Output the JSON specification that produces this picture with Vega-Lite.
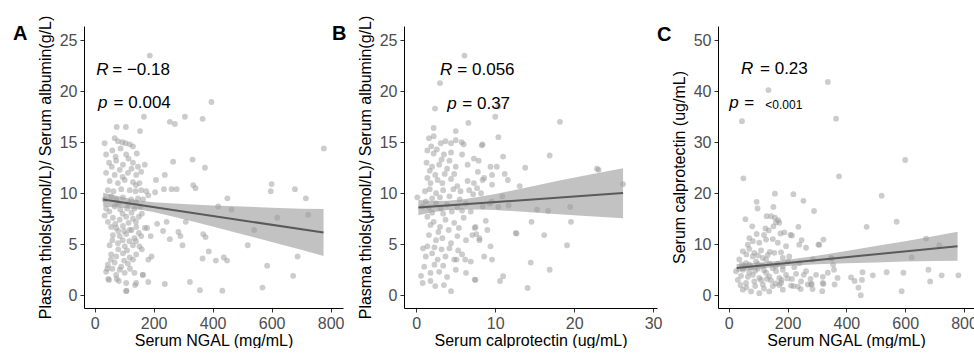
{
  "$schema": "https://vega.github.io/schema/vega-lite/v6.json",
  "padding": {"left": 13, "top": 15, "right": 0, "bottom": 0},
  "background": "white",
  "spacing": 61,
  "bounds": "flush",
  "datasets": {
    "a_pts": [
      {"x":187,"y":23.5},{"x":396,"y":18.95},{"x":306,"y":17.5},{"x":366,"y":17.3},{"x":255,"y":17.0},{"x":272,"y":16.8},{"x":167,"y":17.5},{"x":75,"y":16.5},{"x":106,"y":16.5},{"x":154,"y":16.1},{"x":777,"y":14.4},{"x":332,"y":13.3},{"x":266,"y":13.1},{"x":374,"y":12.5},{"x":170,"y":12.8},{"x":238,"y":11.8},{"x":208,"y":11.3},{"x":334,"y":10.8},{"x":261,"y":10.4},{"x":278,"y":10.4},{"x":342,"y":10.5},{"x":600,"y":10.9},{"x":597,"y":10.2},{"x":679,"y":10.4},{"x":716,"y":9.5},{"x":450,"y":9.5},{"x":235,"y":10.4},{"x":205,"y":10.1},{"x":182,"y":9.8},{"x":419,"y":8.7},{"x":464,"y":8.4},{"x":724,"y":7.9},{"x":619,"y":7.6},{"x":309,"y":7.2},{"x":244,"y":7.2},{"x":212,"y":7.0},{"x":178,"y":6.6},{"x":232,"y":6.3},{"x":284,"y":6.2},{"x":190,"y":5.8},{"x":255,"y":5.5},{"x":291,"y":5.8},{"x":368,"y":6.0},{"x":376,"y":5.7},{"x":541,"y":6.4},{"x":519,"y":4.9},{"x":298,"y":4.9},{"x":387,"y":4.3},{"x":366,"y":3.6},{"x":411,"y":3.4},{"x":438,"y":3.7},{"x":449,"y":3.4},{"x":688,"y":3.8},{"x":585,"y":2.9},{"x":673,"y":1.9},{"x":569,"y":0.75},{"x":357,"y":0.5},{"x":433,"y":0.45},{"x":323,"y":1.3},{"x":238,"y":1.1},{"x":182,"y":1.3},{"x":163,"y":2.0},{"x":193,"y":3.8},{"x":182,"y":3.5},{"x":108,"y":0.45},{"x":137,"y":1.0},{"x":75,"y":1.6},{"x":46,"y":1.6},{"x":43,"y":2.6},
      {"x":34,"y":14.9},{"x":68,"y":15.4},{"x":79,"y":15.1},{"x":94,"y":15.0},{"x":105,"y":14.9},{"x":119,"y":14.8},{"x":130,"y":14.6},
      {"x":39,"y":13.8},{"x":71,"y":13.6},{"x":107,"y":13.8},{"x":143,"y":13.9},
      {"x":49,"y":13.0},{"x":73,"y":13.2},{"x":96,"y":12.8},{"x":130,"y":13.0},{"x":147,"y":12.6},
      {"x":39,"y":12.0},{"x":68,"y":11.8},{"x":85,"y":12.3},{"x":113,"y":12.0},{"x":141,"y":11.8},{"x":158,"y":12.1},
      {"x":51,"y":11.2},{"x":79,"y":11.0},{"x":102,"y":11.3},{"x":130,"y":11.1},{"x":152,"y":11.0},
      {"x":45,"y":10.3},{"x":64,"y":10.2},{"x":90,"y":10.4},{"x":119,"y":10.3},{"x":139,"y":10.2},{"x":158,"y":10.3},{"x":175,"y":10.2},
      {"x":34,"y":9.4},{"x":56,"y":9.7},{"x":73,"y":9.4},{"x":96,"y":9.6},{"x":124,"y":9.4},{"x":147,"y":9.5},{"x":164,"y":9.4},
      {"x":39,"y":8.5},{"x":68,"y":8.7},{"x":87,"y":8.4},{"x":110,"y":8.5},{"x":135,"y":8.5},{"x":155,"y":8.7},
      {"x":34,"y":7.8},{"x":62,"y":7.6},{"x":85,"y":7.4},{"x":107,"y":7.7},{"x":130,"y":7.5},{"x":150,"y":7.7},
      {"x":56,"y":6.7},{"x":73,"y":6.6},{"x":96,"y":6.8},{"x":119,"y":6.4},{"x":141,"y":6.7},{"x":170,"y":6.6},
      {"x":62,"y":5.9},{"x":85,"y":5.8},{"x":107,"y":6.0},{"x":135,"y":5.6},{"x":158,"y":5.8},
      {"x":51,"y":4.9},{"x":79,"y":5.1},{"x":102,"y":4.8},{"x":130,"y":4.9},{"x":152,"y":4.8},
      {"x":56,"y":4.0},{"x":73,"y":3.8},{"x":96,"y":4.1},{"x":119,"y":3.7},{"x":141,"y":4.0},
      {"x":45,"y":3.0},{"x":68,"y":3.2},{"x":90,"y":2.8},{"x":113,"y":3.1},
      {"x":39,"y":2.3},{"x":73,"y":2.0},{"x":102,"y":2.2},{"x":135,"y":2.2},{"x":164,"y":2.0},
      {"x":49,"y":1.5},{"x":82,"y":1.4},{"x":107,"y":1.2},{"x":141,"y":1.2},{"x":107,"y":0.4},
      {"x":60,"y":14.2},{"x":88,"y":14.4},{"x":115,"y":13.4},{"x":125,"y":12.4},{"x":58,"y":12.6},{"x":95,"y":11.6},{"x":140,"y":10.8},{"x":80,"y":9.0},{"x":115,"y":9.0},{"x":140,"y":9.1},{"x":50,"y":8.2},{"x":95,"y":8.0},{"x":125,"y":8.1},{"x":160,"y":8.0},{"x":45,"y":7.2},{"x":70,"y":7.0},{"x":115,"y":7.1},{"x":140,"y":7.2},{"x":80,"y":6.3},{"x":100,"y":6.3},{"x":125,"y":6.4},{"x":150,"y":6.1},{"x":60,"y":5.4},{"x":95,"y":5.4},{"x":118,"y":5.3},{"x":140,"y":5.3},{"x":80,"y":4.5},{"x":110,"y":4.4},{"x":160,"y":4.5},{"x":55,"y":3.5},{"x":100,"y":3.4},{"x":130,"y":3.5},{"x":60,"y":2.6},{"x":85,"y":2.5},{"x":120,"y":2.6}
    ],
    "a_band": [
      {"x":29,"y":8.70,"hi":10.05},{"x":100,"y":8.55,"hi":9.59},{"x":150,"y":8.42,"hi":9.30},{"x":200,"y":8.16,"hi":9.12},{"x":300,"y":7.48,"hi":8.94},{"x":400,"y":6.75,"hi":8.79},{"x":500,"y":5.98,"hi":8.70},{"x":600,"y":5.23,"hi":8.59},{"x":700,"y":4.47,"hi":8.47},{"x":776,"y":3.85,"hi":8.45}
    ],
    "a_line": [{"x":29,"y":9.38},{"x":776,"y":6.15}],
    "a_txt": [
      {"x":5.4,"y":21.64,"label":"R","k":"it"},{"x":59.7,"y":21.64,"label":"= −0.18","k":"reg"},
      {"x":11.2,"y":18.36,"label":"p","k":"it"},{"x":64.4,"y":18.36,"label":"= 0.004","k":"reg"}
    ],
    "b_pts": [
      {"x":6.1,"y":23.5},{"x":3.0,"y":20.8},{"x":2.37,"y":18.3},{"x":10.4,"y":18.5},{"x":10.0,"y":17.5},{"x":18.2,"y":17.0},{"x":6.6,"y":16.9},{"x":5.0,"y":16.1},{"x":2.2,"y":16.4},{"x":10.4,"y":15.5},{"x":8.3,"y":14.7},{"x":5.75,"y":15.0},{"x":11.0,"y":13.6},{"x":16.9,"y":13.7},{"x":7.9,"y":13.2},{"x":13.8,"y":12.5},{"x":10.2,"y":12.6},{"x":22.9,"y":12.4},{"x":23.1,"y":12.3},{"x":11.2,"y":11.9},{"x":8.4,"y":11.3},{"x":9.6,"y":10.85},{"x":11.6,"y":11.3},{"x":13.1,"y":10.7},{"x":26.2,"y":10.9},{"x":7.7,"y":10.5},{"x":7.2,"y":9.9},{"x":9.3,"y":9.0},{"x":10.4,"y":8.66},{"x":11.7,"y":8.8},{"x":15.3,"y":8.4},{"x":16.7,"y":8.27},{"x":19.5,"y":8.66},{"x":19.6,"y":7.2},{"x":14.6,"y":7.2},{"x":16.2,"y":5.9},{"x":12.7,"y":6.05},{"x":9.0,"y":6.4},{"x":7.4,"y":6.6},{"x":7.6,"y":6.0},{"x":8.0,"y":5.4},{"x":19.1,"y":4.9},{"x":14.5,"y":3.2},{"x":16.9,"y":2.5},{"x":11.0,"y":1.86},{"x":10.6,"y":1.4},{"x":14.1,"y":0.72},{"x":7.4,"y":1.54},{"x":6.2,"y":3.5},{"x":5.1,"y":3.5},{"x":5.3,"y":4.4},{"x":0.85,"y":4.6},
      {"x":1.6,"y":15.4},{"x":2.2,"y":15.6},{"x":3.1,"y":14.9},{"x":3.7,"y":15.1},{"x":4.4,"y":14.9},{"x":5.0,"y":15.2},{"x":6.0,"y":14.8},{"x":8.4,"y":14.8},
      {"x":1.4,"y":14.2},{"x":2.2,"y":13.9},{"x":3.5,"y":13.8},{"x":4.4,"y":14.0},{"x":5.8,"y":13.8},{"x":7.3,"y":13.4},
      {"x":1.3,"y":13.0},{"x":2.0,"y":12.6},{"x":2.9,"y":12.8},{"x":3.9,"y":12.4},{"x":5.0,"y":12.6},{"x":6.5,"y":12.8},{"x":7.8,"y":12.1},{"x":9.4,"y":12.6},
      {"x":1.4,"y":11.5},{"x":1.8,"y":11.0},{"x":2.7,"y":11.3},{"x":3.3,"y":11.0},{"x":4.4,"y":11.4},{"x":5.2,"y":10.7},{"x":6.5,"y":11.2},{"x":7.3,"y":11.0},{"x":8.6,"y":11.5},{"x":9.6,"y":11.8},
      {"x":1.1,"y":10.2},{"x":1.7,"y":10.4},{"x":2.5,"y":10.0},{"x":3.4,"y":10.3},{"x":4.7,"y":10.4},{"x":5.6,"y":10.2},{"x":6.7,"y":10.3},{"x":8.2,"y":10.0},{"x":10.9,"y":9.7},{"x":0.13,"y":9.6},
      {"x":0.8,"y":8.7},{"x":1.6,"y":8.6},{"x":2.5,"y":9.0},{"x":3.1,"y":8.5},{"x":3.9,"y":8.9},{"x":5.2,"y":8.6},{"x":6.3,"y":9.0},{"x":6.9,"y":8.2},{"x":8.4,"y":8.7},{"x":9.6,"y":9.2},
      {"x":1.4,"y":7.7},{"x":2.2,"y":7.2},{"x":3.0,"y":6.7},{"x":3.7,"y":7.4},{"x":4.8,"y":7.1},{"x":6.0,"y":7.6},{"x":7.5,"y":6.7},{"x":8.8,"y":7.3},{"x":12.6,"y":6.1},
      {"x":1.6,"y":5.9},{"x":2.5,"y":5.4},{"x":3.3,"y":5.6},{"x":4.4,"y":5.1},{"x":5.2,"y":5.8},{"x":6.3,"y":5.4},{"x":7.1,"y":5.9},{"x":8.0,"y":5.6},{"x":9.4,"y":4.8},
      {"x":1.2,"y":3.8},{"x":2.0,"y":4.1},{"x":2.7,"y":3.5},{"x":3.7,"y":3.8},{"x":4.8,"y":3.5},{"x":5.8,"y":4.0},{"x":6.9,"y":3.3},{"x":8.6,"y":3.8},{"x":9.6,"y":3.5},
      {"x":1.0,"y":2.8},{"x":1.8,"y":2.2},{"x":2.9,"y":2.3},{"x":3.9,"y":1.8},{"x":5.0,"y":2.5},{"x":6.3,"y":2.2},{"x":7.5,"y":1.5},
      {"x":0.8,"y":1.2},{"x":1.8,"y":1.4},{"x":2.4,"y":0.9},{"x":3.5,"y":1.0},{"x":4.4,"y":0.4},
      {"x":1.9,"y":14.6},{"x":2.6,"y":14.3},{"x":3.2,"y":13.3},{"x":4.2,"y":13.2},{"x":1.7,"y":12.2},{"x":2.4,"y":11.8},{"x":3.6,"y":11.9},{"x":4.8,"y":11.9},{"x":2.0,"y":9.5},{"x":3.0,"y":9.6},{"x":4.2,"y":9.7},{"x":5.5,"y":9.4},{"x":1.2,"y":9.2},{"x":2.0,"y":8.1},{"x":3.4,"y":8.0},{"x":4.5,"y":8.2},{"x":5.8,"y":8.3},{"x":1.8,"y":6.9},{"x":2.8,"y":6.2},{"x":4.1,"y":6.4},{"x":5.4,"y":6.6},{"x":1.4,"y":4.8},{"x":2.3,"y":4.7},{"x":3.2,"y":4.5},{"x":4.2,"y":4.6},{"x":0.6,"y":1.9},{"x":2.3,"y":3.0},{"x":3.4,"y":2.9}
    ],
    "b_band": [
      {"x":0.26,"y":7.85,"hi":9.35},{"x":2,"y":8.15,"hi":9.25},{"x":4,"y":8.35,"hi":9.27},{"x":6,"y":8.42,"hi":9.42},{"x":8,"y":8.41,"hi":9.65},{"x":10,"y":8.36,"hi":9.92},{"x":14,"y":8.16,"hi":10.56},{"x":18,"y":7.93,"hi":11.23},{"x":22,"y":7.75,"hi":11.85},{"x":26.2,"y":7.56,"hi":12.45}
    ],
    "b_line": [{"x":0.26,"y":8.6},{"x":26.2,"y":10.03}],
    "b_txt": [
      {"x":3.0,"y":21.64,"label":"R","k":"it"},{"x":5.2,"y":21.64,"label":"= 0.056","k":"reg"},
      {"x":3.93,"y":18.3,"label":"p","k":"it"},{"x":5.83,"y":18.3,"label":"= 0.37","k":"reg"}
    ],
    "c_pts": [
      {"x":337,"y":41.8},{"x":135,"y":40.2},{"x":365,"y":34.6},{"x":45,"y":34.1},{"x":600,"y":26.5},{"x":50,"y":22.9},{"x":375,"y":23.3},{"x":157,"y":19.9},{"x":220,"y":19.8},{"x":254,"y":18.5},{"x":520,"y":19.5},{"x":95,"y":18.3},{"x":98,"y":17.0},{"x":152,"y":17.3},{"x":290,"y":16.5},{"x":157,"y":15.2},{"x":168,"y":14.7},{"x":571,"y":14.4},{"x":129,"y":15.5},{"x":469,"y":13.4},{"x":237,"y":13.4},{"x":125,"y":13.1},{"x":136,"y":12.7},{"x":176,"y":12.1},{"x":210,"y":11.8},{"x":248,"y":10.8},{"x":322,"y":10.9},{"x":671,"y":11.1},{"x":305,"y":9.9},{"x":716,"y":9.8},{"x":622,"y":7.4},{"x":679,"y":5.0},{"x":724,"y":3.9},{"x":685,"y":2.7},{"x":781,"y":3.9},{"x":594,"y":4.4},{"x":588,"y":0.8},{"x":537,"y":4.5},{"x":490,"y":3.9},{"x":455,"y":4.5},{"x":453,"y":3.0},{"x":441,"y":1.5},{"x":449,"y":0.0},{"x":416,"y":3.5},{"x":428,"y":2.8},{"x":358,"y":5.0},{"x":370,"y":3.4},{"x":350,"y":7.2},{"x":355,"y":6.0},{"x":320,"y":3.6},{"x":318,"y":0.8},{"x":322,"y":2.2},{"x":282,"y":2.2},{"x":285,"y":1.2},{"x":278,"y":3.2},{"x":245,"y":1.2},{"x":255,"y":4.0},{"x":220,"y":1.8},{"x":215,"y":3.2},{"x":172,"y":2.0},{"x":180,"y":3.0},
      {"x":57,"y":14.9},{"x":144,"y":15.5},{"x":161,"y":14.3},{"x":172,"y":14.2},{"x":152,"y":13.5},{"x":189,"y":12.3},{"x":215,"y":11.7},
      {"x":70,"y":11.2},{"x":82,"y":10.6},{"x":104,"y":10.3},{"x":127,"y":10.9},{"x":65,"y":9.9},
      {"x":167,"y":10.3},{"x":195,"y":9.6},{"x":240,"y":9.9},{"x":263,"y":9.3},{"x":308,"y":9.9},
      {"x":48,"y":8.6},{"x":70,"y":9.1},{"x":87,"y":8.3},{"x":110,"y":8.8},{"x":133,"y":7.9},{"x":155,"y":8.3},{"x":178,"y":8.4},{"x":206,"y":7.6},
      {"x":36,"y":7.0},{"x":59,"y":6.3},{"x":93,"y":6.6},{"x":127,"y":7.0},{"x":167,"y":6.2},{"x":201,"y":6.6},{"x":240,"y":6.3},{"x":286,"y":7.0},{"x":348,"y":7.3},
      {"x":25,"y":4.7},{"x":48,"y":5.0},{"x":70,"y":4.5},{"x":99,"y":5.2},{"x":127,"y":4.4},{"x":161,"y":4.7},{"x":184,"y":5.0},{"x":229,"y":4.2},{"x":263,"y":4.7},{"x":297,"y":4.0},{"x":337,"y":4.4},
      {"x":31,"y":3.0},{"x":59,"y":2.4},{"x":87,"y":2.7},{"x":116,"y":2.1},{"x":144,"y":2.9},{"x":178,"y":2.4},{"x":212,"y":1.9},{"x":246,"y":2.7},{"x":280,"y":2.1},{"x":320,"y":2.4},{"x":360,"y":2.1},
      {"x":48,"y":1.1},{"x":76,"y":0.75},{"x":104,"y":0.4},{"x":138,"y":0.75},{"x":184,"y":1.1},{"x":235,"y":1.7},{"x":269,"y":2.1},
      {"x":42,"y":3.8},{"x":65,"y":3.6},{"x":82,"y":4.0},{"x":104,"y":3.4},{"x":138,"y":3.7},{"x":172,"y":3.4},{"x":195,"y":4.0},
      {"x":53,"y":5.7},{"x":76,"y":5.5},{"x":116,"y":5.8},{"x":150,"y":5.3},{"x":184,"y":5.7},{"x":223,"y":5.5},
      {"x":82,"y":7.6},{"x":116,"y":7.3},{"x":184,"y":7.3},
      {"x":40,"y":2.0},{"x":60,"y":1.5},{"x":90,"y":1.8},{"x":120,"y":1.3},{"x":150,"y":1.8},{"x":110,"y":3.0},{"x":130,"y":3.2},{"x":160,"y":2.3},{"x":45,"y":6.0},{"x":70,"y":6.0},{"x":100,"y":6.1},{"x":140,"y":6.2},{"x":90,"y":4.8},{"x":120,"y":4.9},{"x":160,"y":5.7},{"x":200,"y":3.3},{"x":60,"y":8.0},{"x":100,"y":7.8},{"x":140,"y":8.5},{"x":95,"y":12.0},{"x":120,"y":11.8},{"x":150,"y":11.0},{"x":80,"y":13.5}
    ],
    "c_band": [
      {"x":27,"y":4.6,"hi":6.1},{"x":100,"y":5.16,"hi":6.36},{"x":150,"y":5.5,"hi":6.6},{"x":200,"y":5.73,"hi":6.93},{"x":300,"y":6.05,"hi":7.75},{"x":400,"y":6.26,"hi":8.66},{"x":500,"y":6.43,"hi":9.63},{"x":600,"y":6.59,"hi":10.59},{"x":700,"y":6.71,"hi":11.61},{"x":778,"y":6.75,"hi":12.45}
    ],
    "c_line": [{"x":27,"y":5.35},{"x":778,"y":9.6}],
    "c_txt": [
      {"x":41.8,"y":43.27,"label":"R","k":"it"},{"x":106.5,"y":43.27,"label":"= 0.23","k":"reg"},
      {"x":2.0,"y":36.7,"label":"p","k":"it"},{"x":53.1,"y":36.7,"label":"=","k":"reg"},{"x":124.5,"y":36.4,"label":"<0.001","k":"sm"}
    ]
  },
  "hconcat": [
    {
      "width": 259, "height": 282,
      "title": {"text": "A", "dx": -71, "dy": 33},
      "encoding": {
        "x": {"field": "x", "type": "quantitative", "title": "Serum NGAL (mg/mL)", "scale": {"domain": [-36, 842], "nice": false, "zero": false}, "axis": {"values": [0, 200, 400, 600, 800]}},
        "y": {"field": "y", "type": "quantitative", "title": "Plasma thiols(μmol/L)/ Serum albumin(g/L)", "scale": {"domain": [-1.25, 26.4], "nice": false, "zero": false}, "axis": {"values": [0, 5, 10, 15, 20, 25]}}
      },
      "layer": [
        {"data": {"name": "a_pts"}, "mark": {"type": "circle", "size": 34, "color": "#999999", "opacity": 0.5}},
        {"data": {"name": "a_band"}, "mark": {"type": "area", "color": "#999999", "opacity": 0.6}, "encoding": {"y2": {"field": "hi"}}},
        {"data": {"name": "a_line"}, "mark": {"type": "line", "color": "#5a5a5a", "strokeWidth": 2}},
        {"data": {"name": "a_txt"}, "transform": [{"filter": "datum.k == 'it'"}], "mark": {"type": "text", "fontStyle": "italic", "fontSize": 17, "align": "left", "baseline": "alphabetic", "color": "#000000", "font": "Liberation Sans"}, "encoding": {"text": {"field": "label"}}},
        {"data": {"name": "a_txt"}, "transform": [{"filter": "datum.k == 'reg'"}], "mark": {"type": "text", "fontSize": 17, "align": "left", "baseline": "alphabetic", "color": "#000000", "font": "Liberation Sans"}, "encoding": {"text": {"field": "label"}}}
      ]
    },
    {
      "width": 253, "height": 282,
      "title": {"text": "B", "dx": -72, "dy": 33},
      "encoding": {
        "x": {"field": "x", "type": "quantitative", "title": "Serum calprotectin (ug/mL)", "scale": {"domain": [-1.56, 30.5], "nice": false, "zero": false}, "axis": {"values": [0, 10, 20, 30]}},
        "y": {"field": "y", "type": "quantitative", "title": "Plasma thiols(μmol/L)/ Serum albumin(g/L)", "scale": {"domain": [-1.25, 26.4], "nice": false, "zero": false}, "axis": {"values": [0, 5, 10, 15, 20, 25]}}
      },
      "layer": [
        {"data": {"name": "b_pts"}, "mark": {"type": "circle", "size": 34, "color": "#999999", "opacity": 0.5}},
        {"data": {"name": "b_band"}, "mark": {"type": "area", "color": "#999999", "opacity": 0.6}, "encoding": {"y2": {"field": "hi"}}},
        {"data": {"name": "b_line"}, "mark": {"type": "line", "color": "#5a5a5a", "strokeWidth": 2}},
        {"data": {"name": "b_txt"}, "transform": [{"filter": "datum.k == 'it'"}], "mark": {"type": "text", "fontStyle": "italic", "fontSize": 17, "align": "left", "baseline": "alphabetic", "color": "#000000", "font": "Liberation Sans"}, "encoding": {"text": {"field": "label"}}},
        {"data": {"name": "b_txt"}, "transform": [{"filter": "datum.k == 'reg'"}], "mark": {"type": "text", "fontSize": 17, "align": "left", "baseline": "alphabetic", "color": "#000000", "font": "Liberation Sans"}, "encoding": {"text": {"field": "label"}}}
      ]
    },
    {
      "width": 256, "height": 282,
      "title": {"text": "C", "dx": -61, "dy": 23},
      "encoding": {
        "x": {"field": "x", "type": "quantitative", "title": "Serum NGAL (mg/mL)", "scale": {"domain": [-36.4, 834], "nice": false, "zero": false}, "axis": {"values": [0, 200, 400, 600, 800]}},
        "y": {"field": "y", "type": "quantitative", "title": "Serum calprotectin (ug/mL)", "scale": {"domain": [-2.5, 52.75], "nice": false, "zero": false}, "axis": {"values": [0, 10, 20, 30, 40, 50]}}
      },
      "layer": [
        {"data": {"name": "c_pts"}, "mark": {"type": "circle", "size": 34, "color": "#999999", "opacity": 0.5}},
        {"data": {"name": "c_band"}, "mark": {"type": "area", "color": "#999999", "opacity": 0.6}, "encoding": {"y2": {"field": "hi"}}},
        {"data": {"name": "c_line"}, "mark": {"type": "line", "color": "#5a5a5a", "strokeWidth": 2}},
        {"data": {"name": "c_txt"}, "transform": [{"filter": "datum.k == 'it'"}], "mark": {"type": "text", "fontStyle": "italic", "fontSize": 17, "align": "left", "baseline": "alphabetic", "color": "#000000", "font": "Liberation Sans"}, "encoding": {"text": {"field": "label"}}},
        {"data": {"name": "c_txt"}, "transform": [{"filter": "datum.k == 'reg'"}], "mark": {"type": "text", "fontSize": 17, "align": "left", "baseline": "alphabetic", "color": "#000000", "font": "Liberation Sans"}, "encoding": {"text": {"field": "label"}}},
        {"data": {"name": "c_txt"}, "transform": [{"filter": "datum.k == 'sm'"}], "mark": {"type": "text", "fontSize": 12, "align": "left", "baseline": "alphabetic", "color": "#000000", "font": "Liberation Sans"}, "encoding": {"text": {"field": "label"}}}
      ]
    }
  ],
  "config": {
    "view": {"stroke": null},
    "font": "Liberation Sans",
    "axis": {
      "grid": false, "domainColor": "#000000", "domainWidth": 1, "tickColor": "#333333", "tickSize": 4, "tickWidth": 1,
      "labelColor": "#4d4d4d", "labelFont": "Liberation Sans", "labelFontSize": 16, "labelPadding": 3,
      "labelFlush": false, "labelOverlap": false, "labelBound": false,
      "titleFont": "Liberation Sans", "titleFontSize": 16, "titleFontWeight": "normal", "titleColor": "#000000"
    },
    "axisY": {"titlePadding": 6},
    "axisX": {"titlePadding": 1},
    "title": {"anchor": "start", "frame": "group", "fontSize": 20, "fontWeight": "bold", "color": "#000000", "offset": 0, "baseline": "alphabetic", "font": "Liberation Sans"}
  }
}
